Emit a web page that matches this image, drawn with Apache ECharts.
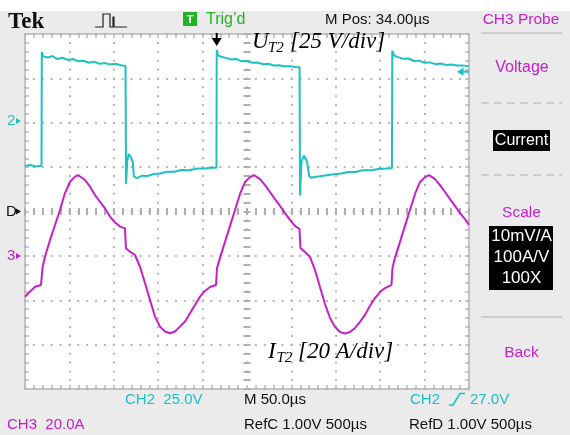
<!DOCTYPE html>
<html>
<head>
<meta charset="utf-8">
<script src="https://cdn.jsdelivr.net/npm/echarts@6/dist/echarts.min.js"></script>
<style>
  html, body { margin: 0; padding: 0; background: #ffffff; }
  #scope { width: 570px; height: 435px; }
</style>
</head>
<body>
<div id="scope"></div>
<script>
// Channel 2: switch voltage (V), time in microseconds
const ch2Time = [0, 6, 12, 18.6, 18.9, 20.3, 26, 31, 36, 42, 48, 54, 60, 66, 72, 78, 84, 90, 96, 102, 108, 113.2,
  113.8, 115.2, 117.0, 119.4, 121.6, 122.6, 126, 132, 138, 145, 152, 160, 168, 176, 185, 194, 203, 210, 215.6,
  215.9, 217.4, 222, 227, 232, 238, 244, 250, 256, 262, 268, 274, 280, 286, 292, 298, 304, 309.2,
  309.7, 311.4, 314.2, 317.6, 319.8, 322, 326, 332, 340, 348, 356, 364, 372, 380, 390, 398, 406, 413.2,
  413.6, 415.5, 420, 426, 432, 438, 444, 450, 456, 462, 468, 474, 480, 486, 492, 500];
const ch2Volts = [-24.4, -23.8, -24.6, -24.2, 39.8, 37.4, 36.8, 37.6, 35.9, 36.6, 35.4, 35.9, 34.6, 34.9, 33.8, 34.4, 33.2, 33.6, 32.8, 33.2, 32.4, 32.0,
  -34.5, -21.0, -17.6, -19.4, -22.6, -30.4, -31.2, -29.8, -30.0, -28.9, -28.6, -27.6, -27.6, -26.6, -26.8, -25.8, -25.8, -25.2, -25.4,
  41.0, 38.0, 37.0, 36.4, 35.6, 35.9, 34.6, 34.8, 33.8, 33.9, 33.0, 33.2, 32.3, 32.4, 31.8, 31.9, 31.4, 31.2,
  -41.0, -21.6, -18.6, -21.8, -29.8, -31.0, -30.6, -30.2, -29.6, -29.0, -28.6, -27.8, -27.8, -26.8, -26.8, -26.0, -25.8, -25.6,
  40.6, 38.0, 37.0, 36.0, 36.2, 34.8, 35.0, 33.8, 34.0, 33.0, 33.4, 32.6, 32.8, 32.2, 32.3, 31.9];

// Channel 3: switch current (A)
const ch3Time = [0, 5.6, 11.3, 18.0, 19.9, 22.5, 28.2, 33.8, 39.4, 45.0, 50.7, 56.3, 59.7, 67.6, 73.2, 78.8, 84.5, 90.1, 95.7, 101.4, 107.0, 112.6,
  113.7, 118.2, 123.9, 129.5, 135.1, 140.8, 146.4, 152.0, 157.7, 163.3, 168.9, 174.5, 180.2, 185.8, 191.4, 197.1, 202.7, 208.3, 215.1,
  216.2, 219.6, 225.2, 230.9, 236.5, 242.1, 247.8, 253.4, 257.9, 264.6, 270.3, 275.9, 281.5, 287.2, 292.8, 298.4, 304.0, 309.1,
  310.2, 315.3, 320.9, 326.6, 332.2, 337.8, 343.5, 349.1, 354.7, 360.3, 366.0, 371.6, 377.2, 382.9, 388.5, 394.1, 399.8, 405.4, 412.7,
  413.8, 416.6, 422.3, 427.9, 433.5, 439.2, 444.8, 450.5, 455.0, 461.7, 467.3, 473.0, 478.6, 484.2, 489.9, 495.5, 500];
const ch3Amps = [-18.4, -16.1, -13.9, -13.1, -4.9, -0.4, 7.2, 13.9, 20.7, 28.3, 33.4, 35.7, 36.4, 34.2, 31.2, 27.4, 24.4, 21.4, 17.7, 15.0, 13.2, 12.4,
  3.4, 1.9, 0.4, -4.9, -12.2, -19.9, -27.4, -31.9, -34.1, -34.9, -34.1, -31.9, -29.6, -25.9, -22.1, -18.4, -15.8, -14.0, -13.1,
  -5.5, -0.9, 6.3, 13.5, 20.7, 27.9, 33.3, 35.5, 36.4, 34.6, 31.9, 28.8, 25.6, 22.5, 19.3, 16.2, 13.5, 12.1,
  3.6, 1.8, -0.5, -6.4, -14.0, -21.7, -28.0, -32.0, -34.3, -35.0, -34.3, -32.5, -29.7, -26.6, -22.5, -19.0, -16.3, -14.5, -13.1,
  -5.5, -0.9, 6.3, 13.5, 20.7, 27.9, 33.3, 35.5, 36.4, 34.6, 31.9, 28.8, 25.6, 22.5, 19.3, 16.6, 13.9];

// Screen settings: 10 horizontal divisions of 50 us, 8 vertical divisions
const timePerDiv = 50;
const ch2VoltsPerDiv = 25, ch2GroundDiv = 2;   // ground marker 2 divisions above centre
const ch3AmpsPerDiv = 20, ch3GroundDiv = -1;   // ground marker 1 division below centre

const CYAN = '#1cc2c2';
const MAGENTA = '#c81ec8';
const GRID_GRAY = '#b6b6b6';
const PANEL = '#ebebeb';
const SANS = '"Liberation Sans", Arial, sans-serif';
const SERIF = '"Liberation Serif", "Times New Roman", serif';

const zip = (a, b) => a.map((v, i) => [v, b[i]]);

const dotted = { color: GRID_GRAY, width: 2, type: [2, 6.88], dashOffset: 1 };
const tickStyle = { color: GRID_GRAY, width: 1.5 };
const centreTickStyle = { color: '#aeaeae', width: 2 };

function timeAxis(extra) {
  return Object.assign({
    type: 'value', min: 0, max: 10 * timePerDiv, interval: timePerDiv,
    axisLabel: { show: false },
    axisLine: { show: false, onZero: false },
    axisTick: { show: true, inside: true, length: 4, lineStyle: tickStyle },
    minorTick: { show: true, splitNumber: 5, length: 4, lineStyle: tickStyle },
    splitLine: { show: false }
  }, extra);
}
function divAxis(extra) {
  return Object.assign({
    type: 'value', min: -4, max: 4, interval: 1,
    axisLabel: { show: false },
    axisLine: { show: false, onZero: false },
    axisTick: { show: true, inside: true, length: 4, lineStyle: tickStyle },
    minorTick: { show: true, splitNumber: 5, length: 4, lineStyle: tickStyle },
    splitLine: { show: false }
  }, extra);
}
// tick marks straddling the centre lines of the screen
function centreTicks(inside) {
  return {
    axisTick: { show: true, inside: inside, length: 3.5, lineStyle: centreTickStyle },
    minorTick: { show: true, splitNumber: 5, length: 3.5, lineStyle: centreTickStyle }
  };
}

const chart = echarts.init(document.getElementById('scope'), null, { renderer: 'canvas' });

function txt(x, y, text, fill, font, align) {
  return { type: 'text', x: x, y: y, z: 50,
    style: { text: text, fill: fill, font: font, align: align || 'left', verticalAlign: 'middle' } };
}

const graphics = [
  // gray bezel around the screen
  { type: 'rect', z: -10, shape: { x: 0, y: 11, width: 570, height: 424 }, style: { fill: PANEL } },

  // header
  txt(8, 22, 'Tek', '#111', 'bold 23px ' + SERIF),
  { type: 'polyline', z: 50, shape: { points: [[95, 27], [103, 27], [103, 14], [110, 14], [110, 27], [113, 27], [113, 17], [114, 17], [114, 27], [127, 27]] },
    style: { stroke: '#222', lineWidth: 1.2, fill: null } },
  { type: 'rect', z: 50, shape: { x: 183, y: 12, width: 14, height: 14 }, style: { fill: '#22b422' } },
  txt(190, 19.5, 'T', '#ffffff', 'bold 11px ' + SANS, 'center'),
  txt(206, 19.5, 'Trig\u2019d', '#22b422', '16px ' + SANS),
  txt(325, 19.5, 'M Pos: 34.00\u00b5s', '#111', '15px ' + SANS),
  txt(521, 19.5, 'CH3 Probe', MAGENTA, '15.5px ' + SANS, 'center'),

  // side menu
  { type: 'line', z: 50, shape: { x1: 481, y1: 33, x2: 562, y2: 33 }, style: { stroke: '#c4c4c4', lineWidth: 1.5 } },
  txt(522, 68, 'Voltage', MAGENTA, '16px ' + SANS, 'center'),
  { type: 'line', z: 50, shape: { x1: 481, y1: 103, x2: 562, y2: 103 }, style: { stroke: '#c4c4c4', lineWidth: 1.5, lineDash: [8, 5] } },
  { type: 'rect', z: 50, shape: { x: 493, y: 130, width: 57, height: 21 }, style: { fill: '#000' } },
  txt(521.5, 140.5, 'Current', '#ffffff', '16px ' + SANS, 'center'),
  { type: 'line', z: 50, shape: { x1: 481, y1: 175, x2: 562, y2: 175 }, style: { stroke: '#c4c4c4', lineWidth: 1.5, lineDash: [8, 5] } },
  txt(521.5, 213, 'Scale', MAGENTA, '15.5px ' + SANS, 'center'),
  { type: 'rect', z: 50, shape: { x: 489, y: 226, width: 64, height: 64 }, style: { fill: '#000' } },
  txt(521.5, 236, '10mV/A', '#ffffff', '17px ' + SANS, 'center'),
  txt(521.5, 257, '100A/V', '#ffffff', '17px ' + SANS, 'center'),
  txt(521.5, 278, '100X', '#ffffff', '17px ' + SANS, 'center'),
  { type: 'line', z: 50, shape: { x1: 481, y1: 317, x2: 562, y2: 317 }, style: { stroke: '#c4c4c4', lineWidth: 1.5 } },
  txt(521.5, 353, 'Back', MAGENTA, '15.5px ' + SANS, 'center'),

  // channel markers on the left edge
  txt(7, 121, '2', CYAN, '15px ' + SANS),
  { type: 'polygon', z: 50, shape: { points: [[16, 118], [21, 121], [16, 124]] }, style: { fill: CYAN } },
  txt(6, 211.5, 'D', '#111', '15px ' + SANS),
  { type: 'polygon', z: 50, shape: { points: [[16, 208.5], [21, 211.5], [16, 214.5]] }, style: { fill: '#111' } },
  txt(7, 256, '3', MAGENTA, '15px ' + SANS),
  { type: 'polygon', z: 50, shape: { points: [[16, 253], [21, 256], [16, 259]] }, style: { fill: MAGENTA } },

  // trigger position and trigger level markers
  { type: 'line', z: 60, shape: { x1: 216.7, y1: 33, x2: 216.7, y2: 40 }, style: { stroke: '#000', lineWidth: 2 } },
  { type: 'polygon', z: 60, shape: { points: [[211.7, 38], [221.7, 38], [216.7, 46]] }, style: { fill: '#000' } },
  { type: 'line', z: 60, shape: { x1: 461, y1: 71.7, x2: 469, y2: 71.7 }, style: { stroke: CYAN, lineWidth: 2 } },
  { type: 'polygon', z: 60, shape: { points: [[457, 71.7], [463.5, 67.5], [463.5, 75.9]] }, style: { fill: CYAN } },

  // trace labels
  txt(252, 42, 'U', '#000', 'italic 23px ' + SERIF),
  txt(268, 48, 'T2', '#000', 'italic 15px ' + SERIF),
  txt(290, 42, '[25 V/div]', '#000', 'italic 23px ' + SERIF),
  txt(268, 352, 'I', '#000', 'italic 23px ' + SERIF),
  txt(276.5, 358, 'T2', '#000', 'italic 15px ' + SERIF),
  txt(298, 352, '[20 A/div]', '#000', 'italic 23px ' + SERIF),

  // readouts below the screen
  txt(125, 399.5, 'CH2  25.0V', CYAN, '15px ' + SANS),
  txt(244, 399.5, 'M 50.0\u00b5s', '#111', '15px ' + SANS),
  txt(410, 399.5, 'CH2', CYAN, '15px ' + SANS),
  { type: 'polyline', z: 50, shape: { points: [[449, 405], [453, 405], [460, 393.5], [465, 393.5]] }, style: { stroke: CYAN, lineWidth: 1.6, fill: null } },
  txt(470, 399.5, '27.0V', CYAN, '15px ' + SANS),
  txt(7, 424.5, 'CH3  20.0A', MAGENTA, '15px ' + SANS),
  txt(244, 424.5, 'RefC 1.00V 500\u00b5s', '#111', '15px ' + SANS),
  txt(409, 424.5, 'RefD 1.00V 500\u00b5s', '#111', '15px ' + SANS)
];

chart.setOption({
  animation: false,
  backgroundColor: '#ffffff',
  grid: [
    // the screen
    { left: 25, top: 34, width: 444, height: 355, show: true,
      backgroundColor: '#ffffff', borderColor: '#c4c4c4', borderWidth: 2 },
    // narrow strip on the vertical centre line, carrying its tick marks
    { left: 247, top: 34, width: 1, height: 355, show: false }
  ],
  xAxis: [
    timeAxis({ position: 'bottom', splitLine: { show: true, lineStyle: dotted } }),
    timeAxis({ position: 'top' }),
    // centre horizontal line: ticks on both sides
    timeAxis(Object.assign({ position: 'bottom', offset: -177.5 }, centreTicks(true))),
    timeAxis(Object.assign({ position: 'bottom', offset: -177.5 }, centreTicks(false))),
    { type: 'value', gridIndex: 1, min: 0, max: 1, show: false }
  ],
  yAxis: [
    divAxis({ position: 'left', splitLine: { show: true, lineStyle: dotted } }),
    divAxis({ position: 'right' }),
    // channel scales (hidden): 8 divisions each, offset by the ground marker
    { type: 'value', show: false, min: (-4 - ch2GroundDiv) * ch2VoltsPerDiv, max: (4 - ch2GroundDiv) * ch2VoltsPerDiv },
    { type: 'value', show: false, min: (-4 - ch3GroundDiv) * ch3AmpsPerDiv, max: (4 - ch3GroundDiv) * ch3AmpsPerDiv },
    // centre vertical line: ticks on both sides
    divAxis(Object.assign({ gridIndex: 1, position: 'left' }, centreTicks(true))),
    divAxis(Object.assign({ gridIndex: 1, position: 'left' }, centreTicks(false)))
  ],
  series: [
    { name: 'UT2', type: 'line', xAxisIndex: 0, yAxisIndex: 2, data: zip(ch2Time, ch2Volts),
      showSymbol: false, symbol: 'none', lineStyle: { color: CYAN, width: 2 }, z: 5 },
    { name: 'IT2', type: 'line', xAxisIndex: 0, yAxisIndex: 3, data: zip(ch3Time, ch3Amps),
      showSymbol: false, symbol: 'none', lineStyle: { color: MAGENTA, width: 2 }, z: 5 }
  ],
  graphic: graphics
});
</script>
</body>
</html>
